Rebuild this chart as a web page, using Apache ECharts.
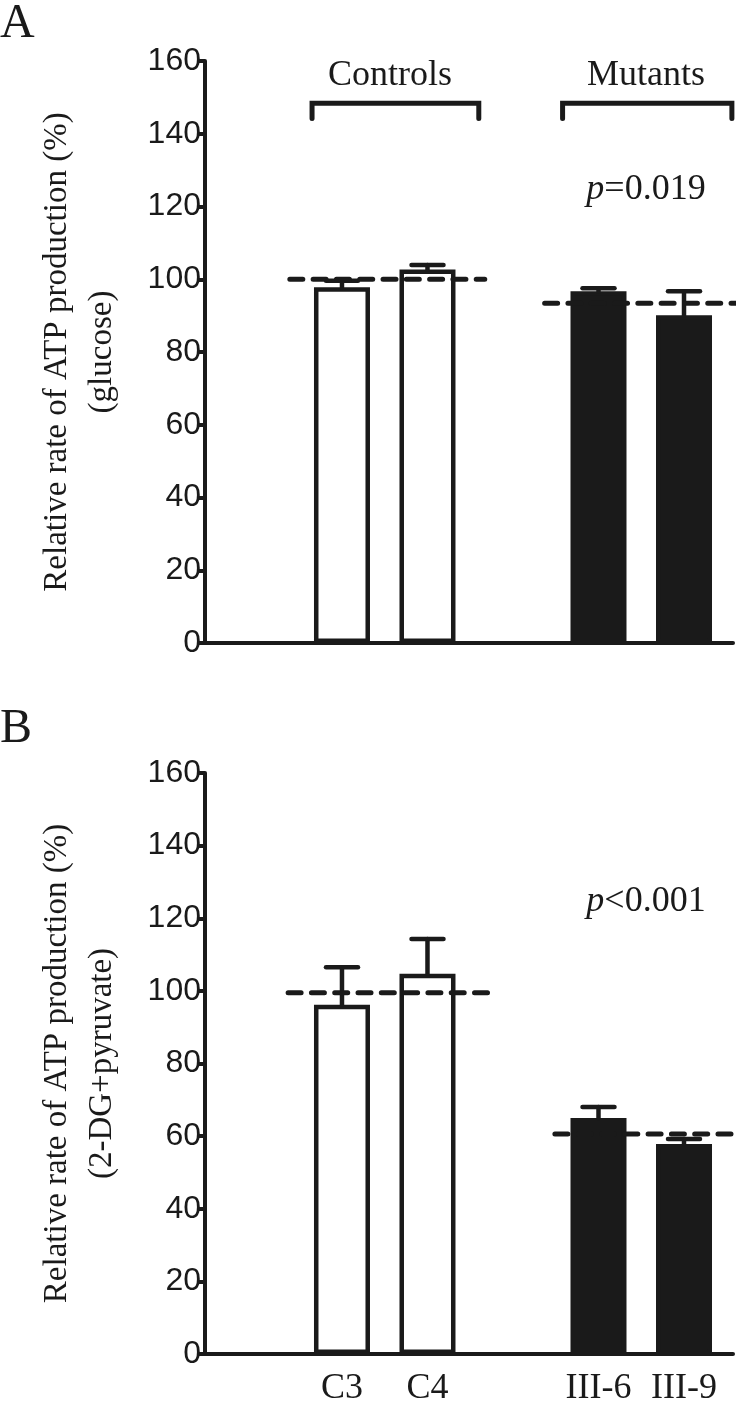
<!DOCTYPE html>
<html><head><meta charset="utf-8">
<script src="https://cdn.jsdelivr.net/npm/echarts@6/dist/echarts.min.js"></script>
<style>html,body{margin:0;padding:0;background:#fff}#c{width:750px;height:1407px}</style>
</head><body><div id="c"></div>
<script>
// ---- data ----
const categories = ['C3', 'C4', '', 'III-6', 'III-9'];
const controlIdx = [0, 1];
const mutantIdx = [3, 4];
// Panel A (glucose)
const glucoseControls = [97.8, 102.7];
const glucoseControlsErr = [1.8, 1.2];
const glucoseMutants = [96.7, 90.1];
const glucoseMutantsErr = [0.8, 6.6];
const glucoseMeans = [100, 93.4];
// Panel B (2-DG + pyruvate)
const dgControls = [96.2, 104.7];
const dgControlsErr = [10.3, 9.6];
const dgMutants = [65.0, 57.8];
const dgMutantsErr = [3.0, 1.4];
const dgMeans = [99.5, 60.6];
const yTicks = [0, 20, 40, 60, 80, 100, 120, 140, 160];
const pTextA = '=0.019';
const pTextB = '<0.001';

// ---- layout constants ----
const BLACK = '#1a1a1a';
const SERIF = '"Liberation Serif","Times New Roman",serif';
const SANS = '"Liberation Sans",Arial,sans-serif';
const X_MIN = -1.602, X_MAX = 4.573;
const meanSpanA = [[-0.61, 1.67], [2.37, 4.68]];
const meanSpanB = [[-0.63, 1.77], [2.49, 4.77]];
const bracketSpan = [[-0.35, 1.60], [2.58, 4.56]];
const bracketY = [144.2, 148.4];

function barData(ctrl, mut) {
  const d = [];
  ctrl.forEach((v, i) => d.push({value: [controlIdx[i], v], itemStyle: {color: '#fff', borderColor: BLACK, borderWidth: 4.5}}));
  mut.forEach((v, i) => d.push({value: [mutantIdx[i], v], itemStyle: {color: BLACK, borderColor: BLACK, borderWidth: 4.5}}));
  return d;
}
function errData(ctrl, ce, mut, me) {
  const d = [];
  ctrl.forEach((v, i) => d.push([controlIdx[i], v, ce[i]]));
  mut.forEach((v, i) => d.push([mutantIdx[i], v, me[i]]));
  return d;
}
function errRender(params, api) {
  const x = api.value(0), v = api.value(1), e = api.value(2);
  const p0 = api.coord([x, v]);
  const p1 = api.coord([x, v + e]);
  const st = {stroke: BLACK, lineWidth: 4.5, lineCap: 'round'};
  return {type: 'group', children: [
    {type: 'line', shape: {x1: p0[0], y1: p0[1], x2: p1[0], y2: p1[1]}, style: st},
    {type: 'line', shape: {x1: p1[0] - 16, y1: p1[1], x2: p1[0] + 16, y2: p1[1]}, style: st}
  ]};
}
function seriesFor(gi, ctrl, ce, mut, me, means, spans, withBracket) {
  const s = [
    {type: 'bar', xAxisIndex: gi, yAxisIndex: gi, barWidth: 56, data: barData(ctrl, mut), z: 2},
    {type: 'custom', xAxisIndex: gi, yAxisIndex: gi, renderItem: errRender, data: errData(ctrl, ce, mut, me), z: 3, clip: false}
  ];
  means.forEach((m, k) => s.push({
    type: 'line', xAxisIndex: gi, yAxisIndex: gi, symbol: 'none', clip: false, z: 4, silent: true,
    data: [[spans[k][0], m], [spans[k][1], m]],
    lineStyle: {color: BLACK, width: 5, type: [13, 10.3], cap: 'round'}
  }));
  if (withBracket) {
    bracketSpan.forEach(b => s.push({
      type: 'line', xAxisIndex: gi, yAxisIndex: gi, symbol: 'none', clip: false, z: 4, silent: true,
      data: [[b[0], bracketY[0]], [b[0], bracketY[1]], [b[1], bracketY[1]], [b[1], bracketY[0]]],
      lineStyle: {color: BLACK, width: 5, cap: 'round', join: 'miter'}
    }));
  }
  return s;
}
function xAxisFor(gi, showLabels) {
  return {
    type: 'value', gridIndex: gi, min: X_MIN, max: X_MAX,
    axisLine: {show: true, onZero: false, lineStyle: {color: BLACK, width: 4}},
    axisTick: {show: false}, splitLine: {show: false},
    axisLabel: showLabels ? {
      customValues: [0, 1, 3, 4],
      formatter: v => categories[Math.round(v)],
      fontFamily: SERIF, fontSize: 36, color: BLACK, margin: 17
    } : {show: false}
  };
}
function yAxisFor(gi, name) {
  return {
    type: 'value', gridIndex: gi, min: yTicks[0], max: yTicks[yTicks.length - 1], interval: 20,
    name: name, nameLocation: 'middle', nameRotate: 90, nameGap: 80,
    nameTextStyle: {fontFamily: SERIF, fontSize: 33, color: BLACK, lineHeight: 45, align: 'center'},
    axisLine: {show: true, onZero: false, lineStyle: {color: BLACK, width: 4}},
    axisTick: {show: true, length: 8, lineStyle: {color: BLACK, width: 4}},
    splitLine: {show: false},
    axisLabel: {fontFamily: SANS, fontSize: 32, color: BLACK, margin: 4}
  };
}

const chart = echarts.init(document.getElementById('c'), null, {renderer: 'canvas'});
chart.setOption({
  backgroundColor: '#fff',
  animation: false,
  grid: [
    {left: 205, right: 17, top: 61, height: 582},
    {left: 205, right: 17, top: 773, height: 582}
  ],
  xAxis: [xAxisFor(0, false), xAxisFor(1, true)],
  yAxis: [
    yAxisFor(0, 'Relative rate of ATP production (%)\n(glucose)'),
    yAxisFor(1, 'Relative rate of ATP production (%)\n(2-DG+pyruvate)')
  ],
  series: [].concat(
    seriesFor(0, glucoseControls, glucoseControlsErr, glucoseMutants, glucoseMutantsErr, glucoseMeans, meanSpanA, true),
    seriesFor(1, dgControls, dgControlsErr, dgMutants, dgMutantsErr, dgMeans, meanSpanB, false)
  ),
  graphic: [
    {type: 'text', left: 0, top: 0, style: {text: 'A', font: '48px ' + SERIF, fill: BLACK}},
    {type: 'text', left: 0, top: 705, style: {text: 'B', font: '48px ' + SERIF, fill: BLACK}},
    {type: 'text', x: 390, y: 76, style: {text: 'Controls', font: '36px ' + SERIF, fill: BLACK, align: 'center', verticalAlign: 'middle'}},
    {type: 'text', x: 646, y: 76, style: {text: 'Mutants', font: '36px ' + SERIF, fill: BLACK, align: 'center', verticalAlign: 'middle'}},
    {type: 'text', x: 646, y: 190, style: {text: '{i|p}' + pTextA, rich: {i: {fontStyle: 'italic', fontFamily: SERIF, fontSize: 36, fill: BLACK}}, fontFamily: SERIF, fontSize: 36, fill: BLACK, align: 'center', verticalAlign: 'middle'}},
    {type: 'text', x: 646, y: 902, style: {text: '{i|p}' + pTextB, rich: {i: {fontStyle: 'italic', fontFamily: SERIF, fontSize: 36, fill: BLACK}}, fontFamily: SERIF, fontSize: 36, fill: BLACK, align: 'center', verticalAlign: 'middle'}}
  ]
});
</script></body></html>
